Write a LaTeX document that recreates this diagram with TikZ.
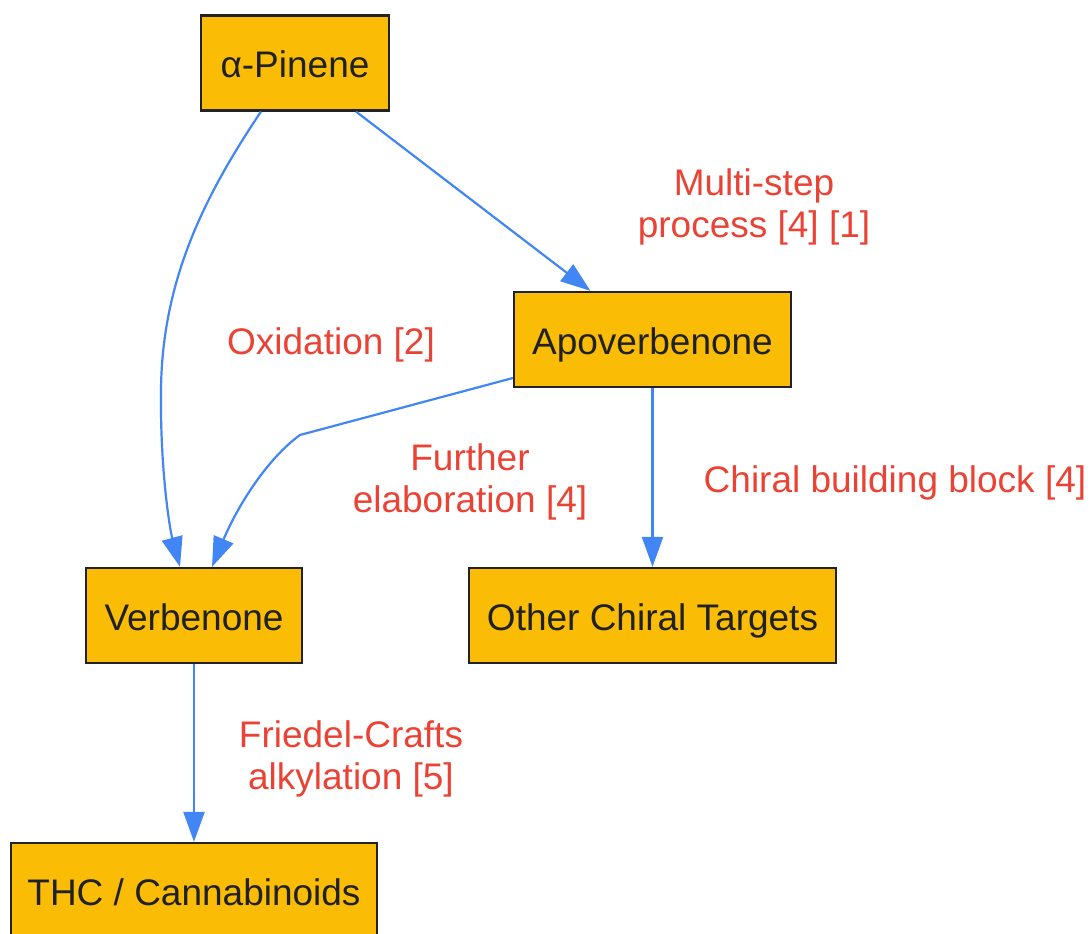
\documentclass[tikz,border=0pt]{standalone}
\usepackage{fontspec}
\setmainfont{Liberation Sans}
\usetikzlibrary{arrows.meta}
\definecolor{nodefill}{HTML}{FBBC05}
\definecolor{nodeline}{HTML}{222222}
\definecolor{edgeblue}{HTML}{4285F4}
\definecolor{labelred}{HTML}{EA4335}
\definecolor{textdark}{HTML}{202124}
\begin{document}
\begin{tikzpicture}[x=1pt,y=-1pt,
  box/.style={draw=nodeline, line width=2.2pt, fill=nodefill, text=textdark, inner sep=0pt,
    font=\fontsize{37}{42}\selectfont, minimum height=95pt, text height=33pt, text depth=4pt},
  edge/.style={draw=edgeblue, line width=2.2pt, -{Triangle[length=30pt,width=21pt]}},
  lbl/.style={text=labelred, inner sep=0pt, align=center, font=\fontsize{37}{42}\selectfont}]
\useasboundingbox (0,0) rectangle (1092,934);
\node[box, minimum width=188pt] (pinene) at (295,63) {α-Pinene};
\node[box, minimum width=277pt] (apo) at (652.5,339.5) {Apoverbenone};
\node[box, minimum width=216pt] (verb) at (194,615.5) {Verbenone};
\node[box, minimum width=367pt] (other) at (652.5,615.5) {Other Chiral Targets};
\node[box, minimum width=366pt, minimum height=96pt] (thc) at (194,891) {THC / Cannabinoids};

\draw[edge] ([xshift=-34pt]pinene.south) .. controls (205,195) and (162,280) .. (161,390)
  .. controls (160,470) and (170,530) .. ([xshift=-14pt]verb.north);
\draw[edge] ([xshift=61pt]pinene.south) -- ([xshift=-62pt]apo.north);
\draw[edge] ([yshift=-38.5pt]apo.west) -- (300,435) .. controls (268,458) and (238,505) .. ([xshift=18pt]verb.north);
\draw[edge] (apo.south) -- (other.north);
\draw[edge] (verb.south) -- (thc.north);

\node[lbl] (l1) at (754,207) {Multi-step\\process [4] [1]};
\node[lbl] (l2) at (331,345) {Oxidation [2]};
\node[lbl] (l3) at (470,482) {Further\\elaboration [4]};
\node[lbl] (l4) at (895,483) {Chiral building block [4]};
\node[lbl] (l5) at (351,759) {Friedel-Crafts\\alkylation [5]};
\end{tikzpicture}
\end{document}
